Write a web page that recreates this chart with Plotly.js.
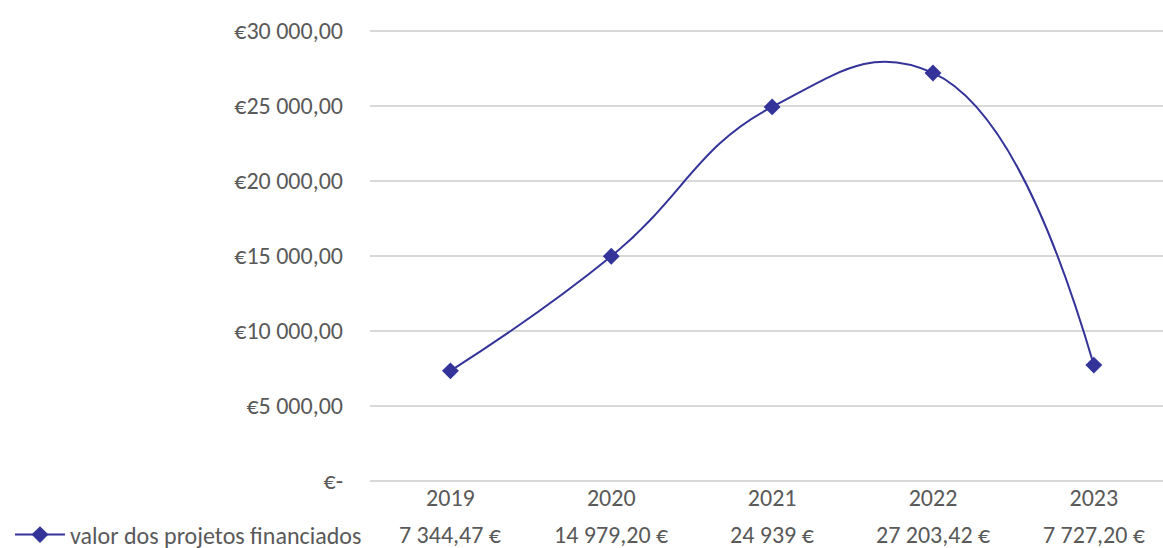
<!DOCTYPE html>
<html><head><meta charset="utf-8">
<script src="https://cdn.plot.ly/plotly-3.0.1.min.js"></script>
<style>body{margin:0;background:#fff}#c{width:1163px;height:548px}</style>
</head><body><div id="c"></div>
<script>
const categories = ['2019','2020','2021','2022','2023'];
const values = [7344.47, 14979.20, 24939, 27203.42, 7727.20];
const valueLabels = ['7 344,47 €','14 979,20 €','24 939 €','27 203,42 €','7 727,20 €'];
const seriesName = 'valor dos projetos financiados';
const yTickVals = [0,5000,10000,15000,20000,25000,30000];
const yTickText = ['€-','€5 000,00','€10 000,00','€15 000,00','€20 000,00','€25 000,00','€30 000,00'];

const FONT = 'Carlito, Lato, "Open Sans", sans-serif';
const FS = 24;
const TXT = '#595959';
const xIdx = categories.map((c,i)=>i);

const trace = {
  x: xIdx, y: values, name: seriesName, type: 'scatter', mode: 'lines+markers',
  line: {color: '#333399', width: 2, shape: 'spline', smoothing: 1.3},
  marker: {symbol: 'diamond', size: 13, color: '#333399'},
  hoverinfo: 'skip'
};

const annotations = valueLabels.map((t,i)=>({
  x: i, xref: 'x', y: -0.1118, yref: 'paper', text: t, showarrow: false,
  font: {family: FONT, size: FS, color: TXT}, xanchor: 'center', yanchor: 'middle'
}));

const layout = {
  width: 1163, height: 548,
  margin: {l: 370, r: 0, t: 28, b: 64},
  paper_bgcolor: '#fff', plot_bgcolor: '#fff',
  font: {family: FONT, size: FS, color: TXT},
  showlegend: true,
  legend: {x: 10/1163, xref: 'container', y: 13/548, yref: 'container',
    xanchor: 'left', yanchor: 'middle', orientation: 'h',
    font: {family: FONT, size: FS, color: TXT}, itemwidth: 50, bgcolor: 'rgba(0,0,0,0)'},
  xaxis: {range: [-0.5, 4.43], tickvals: xIdx, ticktext: categories, showgrid: false,
    zeroline: false, showline: false, ticks: '', ticklabelstandoff: -3, fixedrange: true},
  yaxis: {range: [-200, 30200], tickvals: yTickVals, ticktext: yTickText, showgrid: true,
    gridcolor: '#d9d9d9', gridwidth: 1.5, zeroline: false, showline: false, ticks: '',
    ticklabelstandoff: 26, fixedrange: true},
  annotations: annotations
};
Plotly.newPlot('c', [trace], layout, {displayModeBar: false, staticPlot: true});
</script></body></html>
